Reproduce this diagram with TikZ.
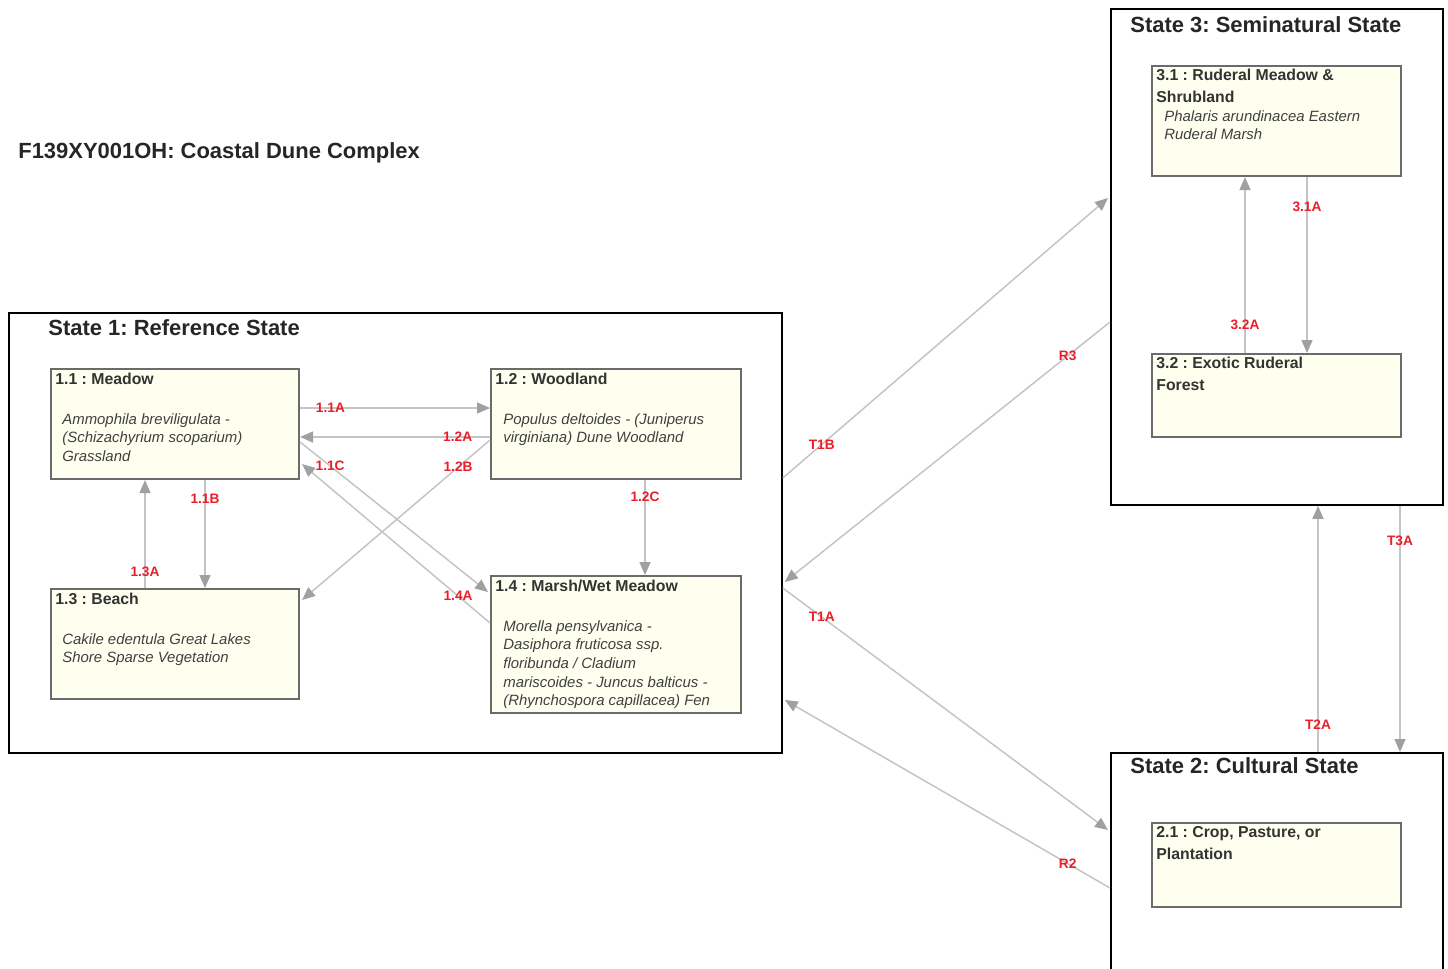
\documentclass[tikz,border=0pt]{standalone}
\usepackage{fontspec}
\setmainfont{Liberation Sans}
\usetikzlibrary{arrows.meta,calc}
\frenchspacing
\definecolor{phasefill}{RGB}{255,255,240}
\definecolor{linegray}{RGB}{196,196,196}
\definecolor{tipgray}{RGB}{160,160,160}
\definecolor{lblred}{RGB}{235,30,40}
\tikzset{
  trarr/.style={-{Triangle[length=0.26cm,width=0.22cm,color=tipgray]},draw=linegray,line width=0.85pt},
  statebox/.style={draw=black,line width=1.1pt,anchor=north west,inner sep=0pt},
  phase/.style={draw=black!58,line width=1.2pt,fill=phasefill,anchor=north west,inner sep=0pt},
  hdr/.style={anchor=north west,inner sep=0pt,align=left,text=black!80,
              font=\bfseries\fontsize{9}{12.5}\selectfont},
  spc/.style={anchor=north west,inner sep=0pt,align=left,text=black!75,
              font=\itshape\fontsize{8.5}{10.6}\selectfont},
  ttl/.style={anchor=west,inner sep=0pt,text=black!85,font=\bfseries\fontsize{12.5}{15}\selectfont},
  lbl/.style={text=lblred,inner sep=0pt,font=\bfseries\fontsize{7.8}{9}\selectfont}
}
\begin{document}
\begin{tikzpicture}[x=0.02cm,y=-0.02cm]
\useasboundingbox (0,0) rectangle (1448,968);
\clip (0,0) rectangle (1448,968);

% title
\node[ttl] (title) at (18,153) {F139XY001OH: Coastal Dune Complex};

% states
\node[statebox, minimum width=15.46cm, minimum height=8.8cm] (s1) at (8,312) {};
\node[statebox, minimum width=6.64cm, minimum height=9.92cm] (s3) at (1110,8) {};
\node[statebox, minimum width=6.64cm, minimum height=4.8cm] (s2) at (1110,752) {};
\node[ttl] (s1t) at ($(s1.north west)+(40,16)$) {State 1: Reference State};
\node[ttl] (s3t) at ($(s3.north west)+(20,17)$) {State 3: Seminatural State};
\node[ttl] (s2t) at ($(s2.north west)+(20,14)$) {State 2: Cultural State};

% community phases
\node[phase, minimum width=4.96cm, minimum height=2.2cm] (b11) at (50,368) {};
\node[phase, minimum width=5.0cm, minimum height=2.2cm] (b12) at (490,368) {};
\node[phase, minimum width=4.96cm, minimum height=2.2cm] (b13) at (50,588) {};
\node[phase, minimum width=5.0cm, minimum height=2.74cm] (b14) at (490,575) {};
\node[phase, minimum width=4.98cm, minimum height=2.2cm] (b31) at (1151,65) {};
\node[phase, minimum width=4.98cm, minimum height=1.66cm] (b32) at (1151,353) {};
\node[phase, minimum width=4.98cm, minimum height=1.68cm] (b21) at (1151,822) {};

\node[hdr] (b11h) at ($(b11.north west)+(5,5)$) {1.1 : Meadow};
\node[spc] (b11s) at ($(b11.north west)+(12,45)$) {Ammophila breviligulata -\\(Schizachyrium scoparium)\\Grassland};
\node[hdr] (b12h) at ($(b12.north west)+(5,5)$) {1.2 : Woodland};
\node[spc] (b12s) at ($(b12.north west)+(13,45)$) {Populus deltoides - (Juniperus\\virginiana) Dune Woodland};
\node[hdr] (b13h) at ($(b13.north west)+(5,5)$) {1.3 : Beach};
\node[spc] (b13s) at ($(b13.north west)+(12,45)$) {Cakile edentula Great Lakes\\Shore Sparse Vegetation};
\node[hdr] (b14h) at ($(b14.north west)+(5,5)$) {1.4 : Marsh/Wet Meadow};
\node[spc] (b14s) at ($(b14.north west)+(13,45)$) {Morella pensylvanica -\\Dasiphora fruticosa ssp.\\floribunda / Cladium\\mariscoides - Juncus balticus -\\(Rhynchospora capillacea) Fen};
\node[hdr] (b31h) at ($(b31.north west)+(5,4)$) {3.1 : Ruderal Meadow \&\\Shrubland};
\node[spc] (b31s) at ($(b31.north west)+(13,45)$) {Phalaris arundinacea Eastern\\Ruderal Marsh};
\node[hdr] (b32h) at ($(b32.north west)+(5,4)$) {3.2 : Exotic Ruderal\\Forest};
\node[hdr] (b21h) at ($(b21.north west)+(5,4)$) {2.1 : Crop, Pasture, or\\Plantation};

% pathways in state 1
\draw[trarr] ($(b11.north east)+(0,40)$) -- node[lbl,pos=0.16]{1.1A} ($(b12.north west)+(0,40)$);
\draw[trarr] ($(b12.north west)+(0,69)$) -- node[lbl,pos=0.17]{1.2A} ($(b11.north east)+(0,69)$);
\draw[trarr] ($(b12.north west)+(0,72)$) -- node[lbl,pos=0.17]{1.2B} ($(b13.north east)+(2,12)$);
\draw[trarr] ($(b11.north east)+(0,74)$) -- node[lbl,pos=0.16]{1.1C} ($(b14.north west)+(-2,17)$);
\draw[trarr] ($(b14.north west)+(0,48)$) -- node[lbl,pos=0.17]{1.4A} ($(b11.north east)+(2,96)$);
\draw[trarr] ($(b11.south west)+(155,0)$) -- node[lbl,pos=0.17]{1.1B} ($(b13.north west)+(155,0)$);
\draw[trarr] ($(b13.north west)+(95,0)$) -- node[lbl,pos=0.15]{1.3A} ($(b11.south west)+(95,0)$);
\draw[trarr] ($(b12.south west)+(155,0)$) -- node[lbl,pos=0.18]{1.2C} ($(b14.north west)+(155,0)$);

% pathways in state 3
\draw[trarr] ($(b31.south west)+(156,0)$) -- node[lbl,pos=0.17]{3.1A} ($(b32.north west)+(156,0)$);
\draw[trarr] ($(b32.north west)+(94,0)$) -- node[lbl,pos=0.16]{3.2A} ($(b31.south west)+(94,0)$);

% transitions and restorations
\draw[trarr] ($(s1.north east)+(0,166)$) -- node[lbl,pos=0.12]{T1B} ($(s3.north west)+(-2,190)$);
\draw[trarr] ($(s3.north west)+(0,314)$) -- node[lbl,pos=0.13]{R3} ($(s1.north east)+(2,270)$);
\draw[trarr] ($(s1.north east)+(0,276)$) -- node[lbl,pos=0.12]{T1A} ($(s2.north west)+(-2,78)$);
\draw[trarr] ($(s2.north west)+(0,136)$) -- node[lbl,pos=0.13]{R2} ($(s1.north east)+(2,388)$);
\draw[trarr] ($(s2.north west)+(208,0)$) -- node[lbl,pos=0.11]{T2A} ($(s3.south west)+(208,0)$);
\draw[trarr] ($(s3.south west)+(290,0)$) -- node[lbl,pos=0.14]{T3A} ($(s2.north west)+(290,0)$);
\end{tikzpicture}
\end{document}
